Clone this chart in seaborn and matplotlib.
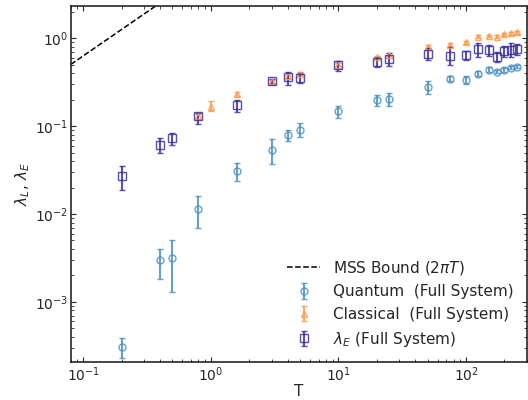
import numpy as np
import pandas as pd
import matplotlib
matplotlib.use("Agg")
import matplotlib.pyplot as plt
import seaborn as sns

# Quantum Lyapunov exponent (full system)
T_q = [0.2, 0.4, 0.5, 0.8, 1.6, 3, 4, 5, 10, 20, 25, 50, 75, 100, 125, 150, 175, 200, 225, 250]
lam_q = [3.1e-4, 2.97e-3, 3.18e-3, 0.0115, 0.0312, 0.054, 0.080, 0.091, 0.147, 0.199, 0.203,
         0.278, 0.345, 0.337, 0.394, 0.437, 0.418, 0.437, 0.463, 0.476]
lo_q = [2.3e-4, 1.83e-3, 1.3e-3, 0.0069, 0.0235, 0.0366, 0.0684, 0.0743, 0.124, 0.171, 0.171,
        0.233, 0.325, 0.303, 0.370, 0.410, 0.398, 0.418, 0.445, 0.460]
hi_q = [3.9e-4, 4.0e-3, 5.0e-3, 0.0159, 0.038, 0.0713, 0.0909, 0.108, 0.171, 0.227, 0.237,
        0.322, 0.367, 0.373, 0.420, 0.465, 0.440, 0.458, 0.483, 0.494]

# Classical Lyapunov exponent (full system)
T_c = [0.8, 1.0, 1.6, 3, 4, 5, 10, 20, 25, 50, 75, 100, 125, 150, 175, 200, 225, 250]
lam_c = [0.129, 0.167, 0.231, 0.322, 0.370, 0.393, 0.497, 0.609, 0.646, 0.80, 0.839, 0.90,
         1.04, 1.06, 1.04, 1.11, 1.14, 1.17]
lo_c = [0.122, 0.150, 0.220, 0.310, 0.355, 0.378, 0.478, 0.585, 0.620, 0.77, 0.805, 0.86,
        1.00, 1.02, 1.00, 1.07, 1.10, 1.13]
hi_c = [0.136, 0.191, 0.243, 0.334, 0.385, 0.408, 0.516, 0.633, 0.672, 0.83, 0.873, 0.94,
        1.08, 1.10, 1.08, 1.15, 1.18, 1.21]

# lambda_E (full system)
T_e = [0.2, 0.4, 0.5, 0.8, 1.6, 3, 4, 5, 10, 20, 25, 50, 75, 100, 125, 150, 175, 200, 225, 250]
lam_e = [0.0274, 0.061, 0.0725, 0.129, 0.175, 0.322, 0.362, 0.357, 0.497, 0.538, 0.582, 0.664,
         0.63, 0.641, 0.756, 0.737, 0.618, 0.717, 0.737, 0.75]
lo_e = [0.0187, 0.0495, 0.061, 0.105, 0.145, 0.300, 0.295, 0.313, 0.429, 0.469, 0.489, 0.567,
        0.497, 0.567, 0.618, 0.63, 0.543, 0.618, 0.609, 0.646]
hi_e = [0.0355, 0.0725, 0.0835, 0.141, 0.200, 0.344, 0.418, 0.407, 0.553, 0.609, 0.676, 0.77,
        0.80, 0.723, 0.89, 0.839, 0.705, 0.818, 0.877, 0.862]

T_bound = [0.08, 300]

sns.set_style("ticks")
plt.rcParams["font.family"] = ["DejaVu Sans"]
plt.rcParams["mathtext.fontset"] = "dejavusans"
plt.rcParams["xtick.direction"] = "in"
plt.rcParams["ytick.direction"] = "in"
plt.rcParams["xtick.top"] = True
plt.rcParams["ytick.right"] = True

fig = plt.figure(figsize=(5.28, 4), dpi=100)
ax = fig.add_axes([0.134, 0.094, 0.864, 0.892])

bound = pd.DataFrame({"T": T_bound, "y": 2 * np.pi * np.array(T_bound)})
sns.lineplot(data=bound, x="T", y="y", ax=ax, color="black", linestyle="--",
             linewidth=1.1, label=r"MSS Bound ($2\pi T$)")


def draw(T, lam, lo, hi, color, marker, ms, label):
    lam = np.array(lam)
    yerr = [lam - np.array(lo), np.array(hi) - lam]
    ax.errorbar(T, lam, yerr=yerr, fmt=marker, color=color, mfc="none", mec=color,
                ms=ms, mew=1.0, elinewidth=1.5, capsize=2.5, capthick=1.2,
                alpha=0.85, label=label)


draw(T_q, lam_q, lo_q, hi_q, "#4a90c4", "o", 5, "Quantum  (Full System)")
draw(T_c, lam_c, lo_c, hi_c, "#ff9a4a", "^", 5, "Classical  (Full System)")
draw(T_e, lam_e, lo_e, hi_e, "#3b30a0", "s", 6, r"$\lambda_E$ (Full System)")

ax.set_xscale("log")
ax.set_yscale("log")
ax.set_xlim(0.08, 300)
ax.set_ylim(2.05e-4, 2.35)
ax.set_xlabel("T", fontsize=11, labelpad=0)
ax.set_ylabel(r"$\lambda_L,\,\lambda_E$", fontsize=11, labelpad=2)
ax.tick_params(which="both", labelsize=10, pad=2)
for s in ax.spines.values():
    s.set_linewidth(1.2)

ax.legend(loc="lower right", frameon=False, fontsize=11, handlelength=2.2)

fig.savefig("out.png", dpi=100)
